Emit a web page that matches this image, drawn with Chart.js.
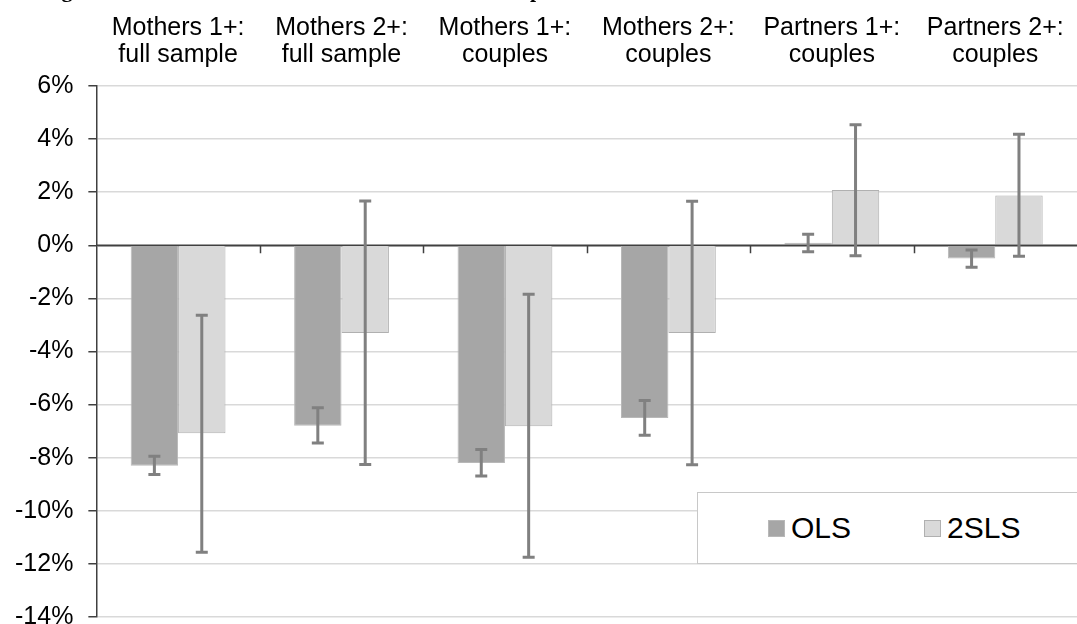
<!DOCTYPE html>
<html>
<head>
<meta charset="utf-8">
<script src="https://cdn.jsdelivr.net/npm/chart.js@4.4.1/dist/chart.umd.min.js"></script>
<style>
    html, body { margin: 0; padding: 0; background: #fff; overflow: hidden; }
    #wrap { position: relative; width: 1077px; height: 624px; overflow: hidden; }
    #box { position: absolute; left: 0; top: 0; width: 1077px; height: 647px; }
    #title {
        position: absolute; left: 42px; top: -21px; white-space: nowrap;
        font: bold 22px "Liberation Serif", "Times New Roman", serif; line-height: 22px; color: #000;
    }
    #legend {
        position: absolute; left: 697px; top: 492px; width: 420px; height: 70px;
        border: 1px solid #c8c8c8; background: #fff;
        font: 30px "Liberation Sans", Arial, sans-serif; color: #000;
    }
    #legend .item { position: absolute; top: 18px; height: 34px; line-height: 34px; white-space: nowrap; }
    #legend .swatch { display: inline-block; width: 15px; height: 15px; margin-right: 6px; vertical-align: 1px; }
</style>
</head>
<body>
<div id="wrap">
    <div id="box"><canvas id="chart"></canvas></div>
    <div id="title">Figure 1: OLS and 2SLS estimates of the relationship between children and labour market outcomes</div>
    <div id="legend"></div>
</div>
<script>
document.addEventListener("DOMContentLoaded", function () {

    const categories = [
        ["Mothers 1+:", "full sample"],
        ["Mothers 2+:", "full sample"],
        ["Mothers 1+:", "couples"],
        ["Mothers 2+:", "couples"],
        ["Partners 1+:", "couples"],
        ["Partners 2+:", "couples"]
    ];

    // point estimates and confidence bounds, in percent
    const olsValues = [-8.3, -6.8, -8.2, -6.5, 0.1, -0.5];
    const olsLow = [-8.63, -7.45, -8.69, -7.15, -0.24, -0.83];
    const olsHigh = [-7.95, -6.12, -7.69, -5.85, 0.42, -0.18];

    const tslsValues = [-7.08, -3.3, -6.82, -3.3, 2.08, 1.88];
    const tslsLow = [-11.56, -8.26, -11.75, -8.27, -0.39, -0.41];
    const tslsHigh = [-2.63, 1.67, -1.84, 1.66, 4.54, 4.18];

    const yTicks = [6, 4, 2, 0, -2, -4, -6, -8, -10, -12, -14];

    const font = "'Liberation Sans', Arial, sans-serif";
    const axisColor = "#404040";

    // error bars, zero line and category ticks, drawn on top of the bars
    const overlay = {
        id: "overlay",
        afterDatasetsDraw(chart) {
            const ctx = chart.ctx;
            const x = chart.scales.x;
            const y = chart.scales.y;
            const area = chart.chartArea;
            const bounds = [[olsLow, olsHigh], [tslsLow, tslsHigh]];

            ctx.save();
            const y0 = y.getPixelForValue(0);
            ctx.strokeStyle = axisColor;
            ctx.lineWidth = 1.5;
            ctx.beginPath();
            ctx.moveTo(area.left, y0);
            ctx.lineTo(area.right, y0);
            for (let i = 1; i < categories.length; i++) {
                const tx = Math.round((x.getPixelForValue(i - 1) + x.getPixelForValue(i)) / 2) + 0.5;
                ctx.moveTo(tx, y0);
                ctx.lineTo(tx, y0 + 8);
            }
            ctx.stroke();

            ctx.strokeStyle = "#808080";
            ctx.lineWidth = 3;
            bounds.forEach((b, d) => {
                chart.getDatasetMeta(d).data.forEach((bar, j) => {
                    const lo = y.getPixelForValue(b[0][j]);
                    const hi = y.getPixelForValue(b[1][j]);
                    ctx.beginPath();
                    ctx.moveTo(bar.x, lo);
                    ctx.lineTo(bar.x, hi);
                    ctx.moveTo(bar.x - 6, lo);
                    ctx.lineTo(bar.x + 6, lo);
                    ctx.moveTo(bar.x - 6, hi);
                    ctx.lineTo(bar.x + 6, hi);
                    ctx.stroke();
                });
            });
            ctx.restore();
        }
    };

    const chart = new Chart(document.getElementById("chart"), {
        type: "bar",
        data: {
            labels: categories,
            datasets: [
                {
                    label: "OLS",
                    data: olsValues,
                    backgroundColor: "#a6a6a6",
                    borderColor: "#b8b8b8",
                    borderWidth: 1,
                    categoryPercentage: 0.58,
                    barPercentage: 1.0
                },
                {
                    label: "2SLS",
                    data: tslsValues,
                    backgroundColor: "#d9d9d9",
                    borderColor: "#b0b0b0",
                    borderWidth: 1,
                    categoryPercentage: 0.58,
                    barPercentage: 1.0
                }
            ]
        },
        options: {
            responsive: true,
            maintainAspectRatio: false,
            animation: false,
            layout: { padding: { left: 0, top: 14, right: 0, bottom: 0 } },
            plugins: {
                legend: { display: false },
                tooltip: { enabled: false }
            },
            scales: {
                x: {
                    position: "top",
                    grid: { display: false, drawTicks: true, tickLength: 17 },
                    border: { display: false },
                    ticks: {
                        color: "#000",
                        padding: 0,
                        maxRotation: 0,
                        autoSkip: false,
                        font: { family: font, size: 25, lineHeight: 1.1 }
                    }
                },
                y: {
                    min: -14,
                    max: 6,
                    afterBuildTicks(scale) {
                        scale.ticks = yTicks.map(v => ({ value: v }));
                    },
                    grid: {
                        color: ctx => ctx.tick && ctx.tick.value === 0 ? axisColor : "#d9d9d9",
                        lineWidth: 1.5,
                        tickColor: axisColor,
                        tickLength: 8
                    },
                    border: { display: true, color: axisColor, width: 1.5 },
                    ticks: {
                        color: "#000",
                        padding: 15,
                        font: { family: font, size: 25 },
                        callback: v => v + "%"
                    }
                }
            }
        },
        plugins: [overlay]
    });

    // legend box built from the datasets
    const legend = document.getElementById("legend");
    const offsets = [70, 226];
    chart.data.datasets.forEach((ds, i) => {
        const item = document.createElement("div");
        item.className = "item";
        item.style.left = offsets[i] + "px";
        item.innerHTML = `<span class="swatch" style="background:${ds.backgroundColor};border:1px solid ${ds.borderColor}"></span>${ds.label}`;
        legend.appendChild(item);
    });

});
</script>
</body>
</html>
